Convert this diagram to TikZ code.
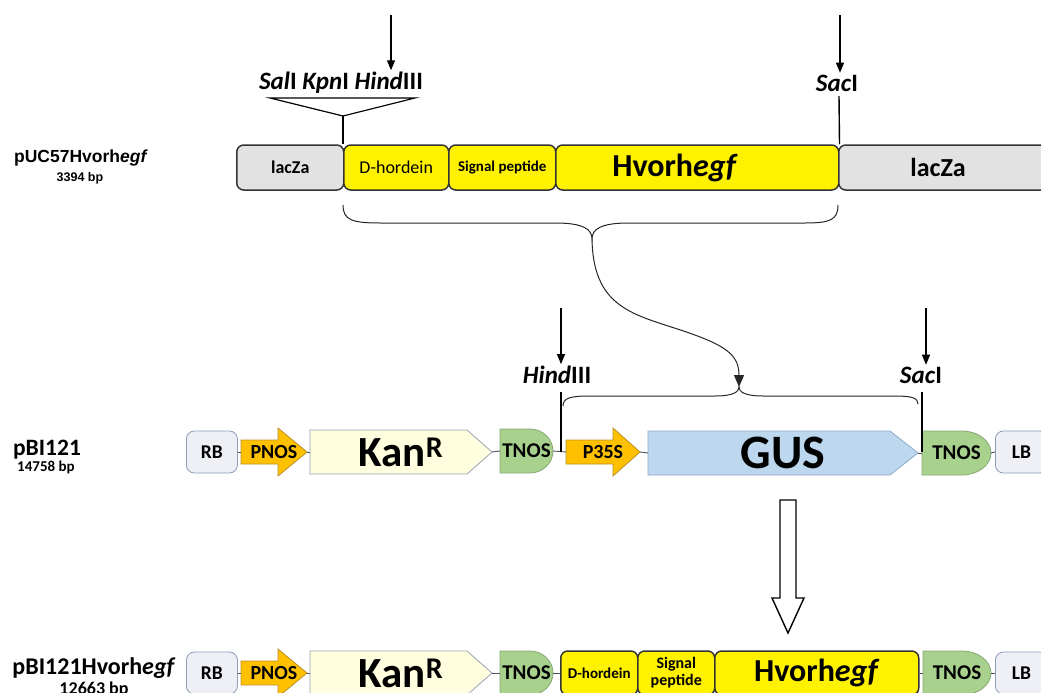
\documentclass[tikz,border=0pt]{standalone}
\usepackage{fontspec}
\setmainfont{Carlito}
\newfontfamily\arialf{Liberation Sans}
\usetikzlibrary{arrows.meta,calc}
\definecolor{lacgray}{HTML}{E2E2E2}
\definecolor{darkb}{HTML}{333333}
\definecolor{rbfill}{HTML}{EEF0F5}
\definecolor{rbdraw}{HTML}{8C9DB5}
\definecolor{pnosfill}{HTML}{FFC000}
\definecolor{pnosdraw}{HTML}{B8902A}
\definecolor{kanfill}{HTML}{FFFFE0}
\definecolor{kandraw}{HTML}{9AA3B0}
\definecolor{tnosfill}{HTML}{A9D18E}
\definecolor{tnosdraw}{HTML}{86A874}
\definecolor{gusfill}{HTML}{BDD7EE}
\definecolor{gusdraw}{HTML}{8EA9C8}
\definecolor{connc}{HTML}{4A5564}
\newcommand\myfs[1]{\fontsize{#1}{#1}\selectfont}
% promoter arrow: name, x1, xh, x2, yc, body half, text
\newcommand\promoter[7]{%
  \filldraw[fill=pnosfill,draw=pnosdraw,line width=0.8pt] (#2,#5-#6) -- (#3,#5-#6) -- (#3,#5-24) -- (#4,#5) -- (#3,#5+24) -- (#3,#5+#6) -- (#2,#5+#6) -- cycle;
  \node[txt,font=\myfs{20}\bfseries,minimum width={#4-#2},minimum height=48,anchor=west] (#1) at (#2,#5) {#7};}
% pentagon: name, fill, draw, x1, xp, x2, yc, text
\newcommand\pent[8]{%
  \filldraw[fill=#2,draw=#3,line width=0.8pt] (#4,#7-22) -- (#5,#7-22) -- (#6,#7) -- (#5,#7+22) -- (#4,#7+22) -- cycle;
  \node[txt,minimum width={#6-#4},minimum height=44,anchor=west] (#1) at (#4,#7) {#8};}
% D shape: name, x1, xm, x2, yc, half height, text
\newcommand\dshape[7]{%
  \filldraw[fill=tnosfill,draw=tnosdraw,line width=0.8pt] (#2,#5-#6) -- (#3,#5-#6) .. controls ({#3+0.55*(#4-#3)},#5-#6) and (#4,{#5-0.55*#6}) .. (#4,#5) .. controls (#4,{#5+0.55*#6}) and ({#3+0.55*(#4-#3)},#5+#6) .. (#3,#5+#6) -- (#2,#5+#6) -- cycle;
  \node[txt,font=\myfs{21}\bfseries,minimum width={#4-#2},minimum height={2*#6},anchor=west] (#1) at (#2,#5) {#7};}
\begin{document}
\begin{tikzpicture}[x=1pt,y=-1pt,
  txt/.style={inner sep=0pt,outer sep=0pt,text=black},
  rowone/.style={draw=darkb,line width=1.5pt,rounded corners=7pt,minimum height=45,inner sep=0pt,anchor=west},
  lacbox/.style={rowone,fill=lacgray},
  yelbox/.style={rowone,fill=yellow},
  endbox/.style={draw=rbdraw,fill=rbfill,line width=0.8pt,rounded corners=8pt,minimum height=42,inner sep=0pt,anchor=west,font=\myfs{19.5}\bfseries},
  cutarrow/.style={line width=1.2pt,-{Triangle[length=10pt,width=8pt]}},
  cutline/.style={line width=1.4pt},
  brace/.style={line width=1pt,draw=black!85},
  conn/.style={draw=connc,line width=0.9pt},
  site/.style={txt,font=\myfs{25}\bfseries},
  ]
\useasboundingbox (0,0) rectangle (1041,693);
\clip (0,0) rectangle (1041,693);

% ---------- Row 1 : pUC57Hvorhegf ----------
\node[txt,font=\arialf\myfs{17.5}\bfseries] (lbl1) at (81,158) {pUC57Hvorh\textit{egf}};
\node[txt,font=\arialf\myfs{12.5}\bfseries] (bp1) at (80,178) {3394 bp};

\node[lacbox,minimum width=107,font=\myfs{18}\bfseries] (lacL) at (236,167.5) {lacZa};
\node[yelbox,minimum width=105,font=\myfs{18}] (dh1) at (343,167.5) {D-hordein};
\node[yelbox,minimum width=107,font=\myfs{15}\bfseries] (sp1) at (448,167.5) {Signal peptide};
\node[yelbox,minimum width=283] (hv1) at (555,167.5) {};
\node[txt,font=\myfs{32}\bfseries] (hv1t) at (675,167.5) {Hvorh\textit{egf}};
\node[lacbox,minimum width=210] (lacR) at (838,167.5) {};
\node[txt,font=\myfs{26}\bfseries] (lacRt) at (938,167.5) {lacZa};

\node[site] (site1) at (341,83) {\textit{Sal}I \textit{Kpn}I \textit{Hind}III};
\coordinate (a1top) at (391,15);
\draw[cutarrow,shorten >=2pt] (a1top) -- (a1top |- site1.north);
\coordinate (tri1l) at (270,98);
\coordinate (tri1r) at (415,98);
\coordinate (tri1a) at (343,116);
\draw[line width=1.2pt,line join=miter] (tri1l) -- (tri1r) -- (tri1a) -- cycle;
\draw[cutline] (tri1a) -- (dh1.north west);

\node[site] (sac1) at (837,83) {\textit{Sac}I};
\coordinate (a2top) at (840,15);
\draw[cutarrow,shorten >=2pt] (a2top) -- (a2top |- sac1.north);
\coordinate (sac1cut) at (839,96);
\draw[cutline] (sac1cut) -- (hv1.north east);

% brace 1 and curved arrow
\coordinate (b1l) at (343,205);
\coordinate (b1tip) at (592,239);
\coordinate (b1r) at (838,205);
\draw[brace] (b1l) .. controls (343,220) and (352,223) .. (380,223) -- (555,223)
  .. controls (583,223) and (592,229) .. (b1tip)
  .. controls (592,229) and (601,223) .. (629,223) -- (805,223)
  .. controls (830,223) and (838,220) .. (b1r);
\coordinate (b2tip) at (739,387);
\draw[brace,-{Triangle[length=12pt,width=10pt]}] (b1tip) .. controls (593,300) and (625,312) .. (665,325)
  .. controls (722,343) and (739,352) .. (b2tip);

% ---------- Row 2 : pBI121 ----------
\node[txt,font=\myfs{23.5}\bfseries] (lbl2) at (47,450) {pBI121};
\node[txt,font=\myfs{15}\bfseries] (bp2) at (46,467) {14758 bp};

\node[endbox,minimum width=51] (rb2) at (186,452) {RB};
\promoter{pnos2}{241}{278}{307}{452}{12}{PNOS\hspace{10pt}}
\pent{kan2}{kanfill}{kandraw}{310}{467}{492}{452}{\myfs{43}\bfseries Kan\textsuperscript{R}\hspace{6pt}}
\dshape{tnos2L}{500}{530}{553}{451}{22}{TNOS}
\promoter{p35s2}{566}{613}{640}{452}{12}{P35S\hspace{22pt}}
\pent{gus2}{gusfill}{gusdraw}{648}{890}{918}{453}{\myfs{48}\bfseries GUS\hspace{20pt}}
\dshape{tnos2R}{922}{962}{991}{453}{22}{TNOS\hspace{4pt}}
\node[endbox,minimum width=52] (lb2) at (995,452) {LB};

\draw[conn] (rb2.east) -- (pnos2.west);
\draw[conn] (pnos2.east) -- (kan2.west);
\draw[conn] (kan2.east) -- (tnos2L.west);
\draw[conn] (tnos2L.east) -- (p35s2.west);
\draw[conn] (p35s2.east) -- (gus2.west);
\draw[conn] (gus2.east) -- (tnos2R.west);
\draw[conn] (tnos2R.east) -- (lb2.west);

\node[site] (hind2) at (557,375) {\textit{Hind}III};
\coordinate (a3top) at (561,308);
\draw[cutarrow,shorten >=2pt] (a3top) -- (a3top |- hind2.north);
\node[site] (sac2) at (921,375) {\textit{Sac}I};
\coordinate (a4top) at (926,308);
\draw[cutarrow,shorten >=2pt] (a4top) -- (a4top |- sac2.north);
\coordinate (cut2a) at (561,392);
\coordinate (cut2b) at (561,452);
\coordinate (cut3a) at (922,392);
\coordinate (cut3b) at (922,452);
\draw[cutline] (cut2a) -- (cut2b);
\draw[cutline] (cut3a) -- (cut3b);

% brace 2
\coordinate (b2l) at (563,406);
\coordinate (b2r) at (918,404);
\draw[brace] (b2l) .. controls (563,398) and (570,396) .. (590,396) -- (715,396)
  .. controls (733,396) and (739,392) .. (b2tip)
  .. controls (739,392) and (745,396) .. (763,396) -- (895,396)
  .. controls (912,396) and (918,398) .. (b2r);

% big hollow arrow
\draw[line width=1.4pt,fill=white] (780,500) -- (796,500) -- (796,598) -- (804,598) -- (788,633) -- (772,598) -- (780,598) -- cycle;

% ---------- Row 3 : pBI121Hvorhegf ----------
\node[txt,font=\myfs{24}\bfseries] (lbl3) at (94,668) {pBI121Hvorh\textit{egf}};
\node[txt,font=\myfs{18}\bfseries] (bp3) at (94,690) {12663 bp};

\node[endbox,minimum width=51] (rb3) at (186,673) {RB};
\promoter{pnos3}{241}{278}{307}{673}{12}{PNOS\hspace{10pt}}
\pent{kan3}{kanfill}{kandraw}{310}{467}{492}{673}{\myfs{43}\bfseries Kan\textsuperscript{R}\hspace{6pt}}
\dshape{tnos3L}{500}{530}{553}{673}{22}{TNOS}
\node[yelbox,minimum width=77,minimum height=44,font=\myfs{15}\bfseries] (dh3) at (560,673) {D-hordein};
\node[yelbox,minimum width=77,minimum height=44,font=\myfs{16}\bfseries,align=center] (sp3) at (637,673) {Signal\\[1pt]peptide};
\node[yelbox,minimum width=204,minimum height=44,font=\myfs{32}\bfseries] (hv3) at (714,673) {Hvorh\textit{egf}};
\dshape{tnos3R}{923}{962}{991}{673}{22}{TNOS\hspace{4pt}}
\node[endbox,minimum width=52] (lb3) at (995,673) {LB};

\draw[conn] (rb3.east) -- (pnos3.west);
\draw[conn] (pnos3.east) -- (kan3.west);
\draw[conn] (kan3.east) -- (tnos3L.west);
\draw[conn] (tnos3L.east) -- (dh3.west);
\draw[conn] (hv3.east) -- (tnos3R.west);
\draw[conn] (tnos3R.east) -- (lb3.west);
\end{tikzpicture}
\end{document}
